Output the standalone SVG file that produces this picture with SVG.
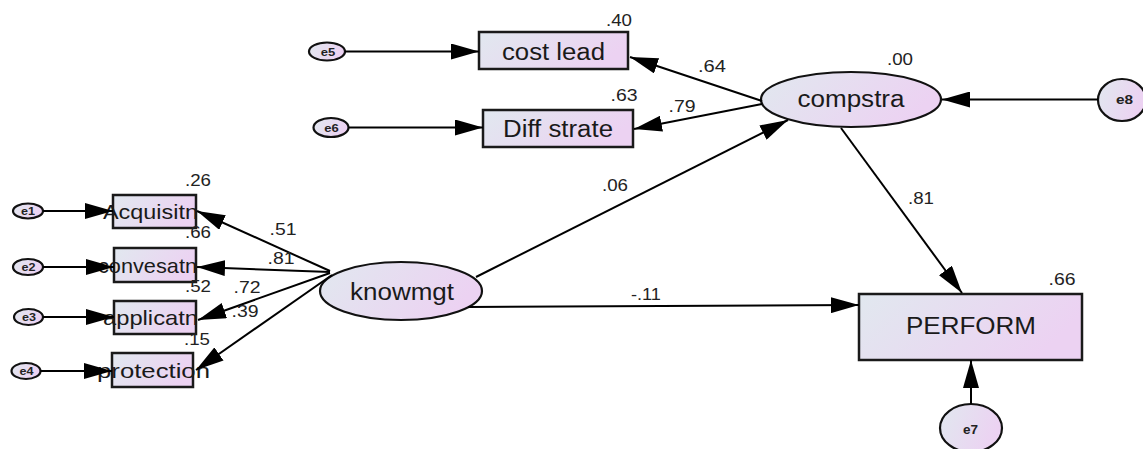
<svg xmlns="http://www.w3.org/2000/svg" width="1143" height="449" viewBox="0 0 1143 449">
  <defs>
    <linearGradient id="fillGrad" x1="0" y1="0" x2="1" y2="0.3">
      <stop offset="0" stop-color="#e1e8ef"/>
      <stop offset="1" stop-color="#ecd2f2"/>
    </linearGradient>
    <marker id="arrow" viewBox="0 0 28 16" refX="28" refY="8" markerWidth="28" markerHeight="16" markerUnits="userSpaceOnUse" orient="auto">
      <path d="M0,0 L28,8 L0,16 z" fill="#000"/>
    </marker>
  </defs>
  <style>
    .box { fill: url(#fillGrad); stroke: #1a1a1a; stroke-width: 2.5; }
    .lat { fill: url(#fillGrad); stroke: #111; stroke-width: 2.2; }
    .err { fill: url(#fillGrad); stroke: #111; stroke-width: 2.2; }
    .lbl { font-family: "Liberation Sans", Arial, sans-serif; font-size: 23px; fill: #1a1a1a; text-anchor: middle; }
    .obs { font-family: "Liberation Sans", Arial, sans-serif; font-size: 21px; fill: #1a1a1a; text-anchor: middle; }
    .elbl { font-family: "Liberation Sans", Arial, sans-serif; font-size: 11.5px; font-weight: bold; fill: #222; text-anchor: middle; }
    .num { font-family: "Liberation Sans", Arial, sans-serif; font-size: 17px; fill: #222; text-anchor: middle; }
    .conn line { stroke: #000; stroke-width: 2; marker-end: url(#arrow); }
  </style>
  <rect width="1143" height="449" fill="#fff"/>

  <!-- error terms -->
  <g id="e1"><ellipse class="err" cx="28" cy="211" rx="15" ry="7.5"/><text class="elbl" x="28" y="215" textLength="14" lengthAdjust="spacingAndGlyphs">e1</text></g>
  <g id="e2"><ellipse class="err" cx="28" cy="267" rx="15" ry="8"/><text class="elbl" x="28.5" y="271" textLength="14" lengthAdjust="spacingAndGlyphs">e2</text></g>
  <g id="e3"><ellipse class="err" cx="28.5" cy="317" rx="14.5" ry="8"/><text class="elbl" x="29" y="321" textLength="14" lengthAdjust="spacingAndGlyphs">e3</text></g>
  <g id="e4"><ellipse class="err" cx="26" cy="371" rx="14.5" ry="8"/><text class="elbl" x="26.5" y="375" textLength="14" lengthAdjust="spacingAndGlyphs">e4</text></g>
  <g id="e5"><ellipse class="err" cx="327" cy="51.5" rx="18" ry="9"/><text class="elbl" x="328" y="55.5" textLength="14.5" lengthAdjust="spacingAndGlyphs">e5</text></g>
  <g id="e6"><ellipse class="err" cx="331" cy="127.5" rx="17.5" ry="9.5"/><text class="elbl" x="331.5" y="131.5" textLength="14.5" lengthAdjust="spacingAndGlyphs">e6</text></g>
  <g id="e7"><ellipse class="err" cx="971" cy="428" rx="31" ry="24"/><text class="elbl" x="970.5" y="434" style="font-size:12.5px" textLength="15" lengthAdjust="spacingAndGlyphs">e7</text></g>
  <g id="e8"><ellipse class="err" cx="1122" cy="100" rx="24" ry="21"/><text class="elbl" x="1124.5" y="104" style="font-size:13px" textLength="17" lengthAdjust="spacingAndGlyphs">e8</text></g>

  <!-- observed indicators -->
  <g id="acquisitn"><rect class="box" x="113" y="195" width="83" height="33"/><text class="obs" x="150.5" y="219" textLength="95" lengthAdjust="spacingAndGlyphs">Acquisitn</text><text class="num" x="198" y="186" textLength="26" lengthAdjust="spacingAndGlyphs">.26</text></g>
  <g id="convesatn"><rect class="box" x="114" y="248" width="82" height="34"/><text class="obs" x="147.5" y="273" textLength="99" lengthAdjust="spacingAndGlyphs">convesatn</text><text class="num" x="198" y="238" textLength="26" lengthAdjust="spacingAndGlyphs">.66</text></g>
  <g id="applicatn"><rect class="box" x="114" y="301" width="82" height="33"/><text class="obs" x="150.5" y="325" textLength="95" lengthAdjust="spacingAndGlyphs">applicatn</text><text class="num" x="198" y="292" textLength="26" lengthAdjust="spacingAndGlyphs">.52</text></g>
  <g id="protection"><rect class="box" x="112" y="353" width="81" height="34"/><text class="obs" x="153.5" y="378" textLength="113" lengthAdjust="spacingAndGlyphs">protection</text><text class="num" x="197" y="345" textLength="26" lengthAdjust="spacingAndGlyphs">.15</text></g>
  <g id="costlead"><rect class="box" x="479" y="32" width="149" height="37"/><text class="lbl" x="553.5" y="59.5" textLength="103" lengthAdjust="spacingAndGlyphs">cost lead</text><text class="num" x="619" y="26" textLength="26" lengthAdjust="spacingAndGlyphs">.40</text></g>
  <g id="diffstrate"><rect class="box" x="483" y="110" width="150" height="37"/><text class="lbl" x="558" y="137" textLength="110" lengthAdjust="spacingAndGlyphs">Diff strate</text><text class="num" x="624" y="101" textLength="27" lengthAdjust="spacingAndGlyphs">.63</text></g>
  <g id="perform"><rect class="box" x="859" y="294" width="223" height="66"/><text class="lbl" x="971" y="334" textLength="130" lengthAdjust="spacingAndGlyphs">PERFORM</text><text class="num" x="1062" y="285" textLength="27" lengthAdjust="spacingAndGlyphs">.66</text></g>

  <!-- latent constructs -->
  <g id="compstra"><ellipse class="lat" cx="851" cy="99.5" rx="90" ry="27.5"/><text class="lbl" x="851" y="107" textLength="107" lengthAdjust="spacingAndGlyphs">compstra</text><text class="num" x="900" y="64.5" textLength="26" lengthAdjust="spacingAndGlyphs">.00</text></g>
  <g id="knowmgt"><ellipse class="lat" cx="401" cy="291" rx="81" ry="29"/><text class="lbl" x="402" y="300" textLength="104" lengthAdjust="spacingAndGlyphs">knowmgt</text></g>

  <!-- paths and loadings -->
  <g id="connectors" class="conn">
    <line x1="43" y1="211" x2="113" y2="211"/>
    <line x1="43" y1="267" x2="114" y2="267"/>
    <line x1="43" y1="317" x2="114" y2="317"/>
    <line x1="40.5" y1="371" x2="112" y2="371"/>
    <line x1="345" y1="51.5" x2="479" y2="51.5"/>
    <line x1="348.5" y1="127.5" x2="483" y2="127.5"/>
    <line x1="1098" y1="99.5" x2="942" y2="99.5"/>
    <line x1="971" y1="404" x2="971" y2="360"/>
    <line x1="762" y1="101" x2="630" y2="57"/>
    <line x1="762" y1="104" x2="634" y2="129"/>
    <line x1="476" y1="277" x2="788" y2="120"/>
    <line x1="841" y1="128" x2="962" y2="293"/>
    <line x1="468" y1="307" x2="859" y2="305"/>
    <line x1="330" y1="271" x2="197" y2="211"/>
    <line x1="330" y1="272" x2="197" y2="267"/>
    <line x1="330" y1="273" x2="198" y2="320"/>
    <line x1="332" y1="275" x2="196" y2="370"/>
    <text class="num" x="283" y="235" textLength="27" lengthAdjust="spacingAndGlyphs">.51</text>
    <text class="num" x="281" y="264" textLength="27" lengthAdjust="spacingAndGlyphs">.81</text>
    <text class="num" x="247" y="293" textLength="27" lengthAdjust="spacingAndGlyphs">.72</text>
    <text class="num" x="245" y="317" textLength="27" lengthAdjust="spacingAndGlyphs">.39</text>
    <text class="num" x="712" y="72" textLength="28" lengthAdjust="spacingAndGlyphs">.64</text>
    <text class="num" x="682" y="112" textLength="27" lengthAdjust="spacingAndGlyphs">.79</text>
    <text class="num" x="615" y="191" textLength="26" lengthAdjust="spacingAndGlyphs">.06</text>
    <text class="num" x="921" y="204" textLength="26" lengthAdjust="spacingAndGlyphs">.81</text>
    <text class="num" x="646" y="300" textLength="30" lengthAdjust="spacingAndGlyphs">-.11</text>
  </g>
</svg>
